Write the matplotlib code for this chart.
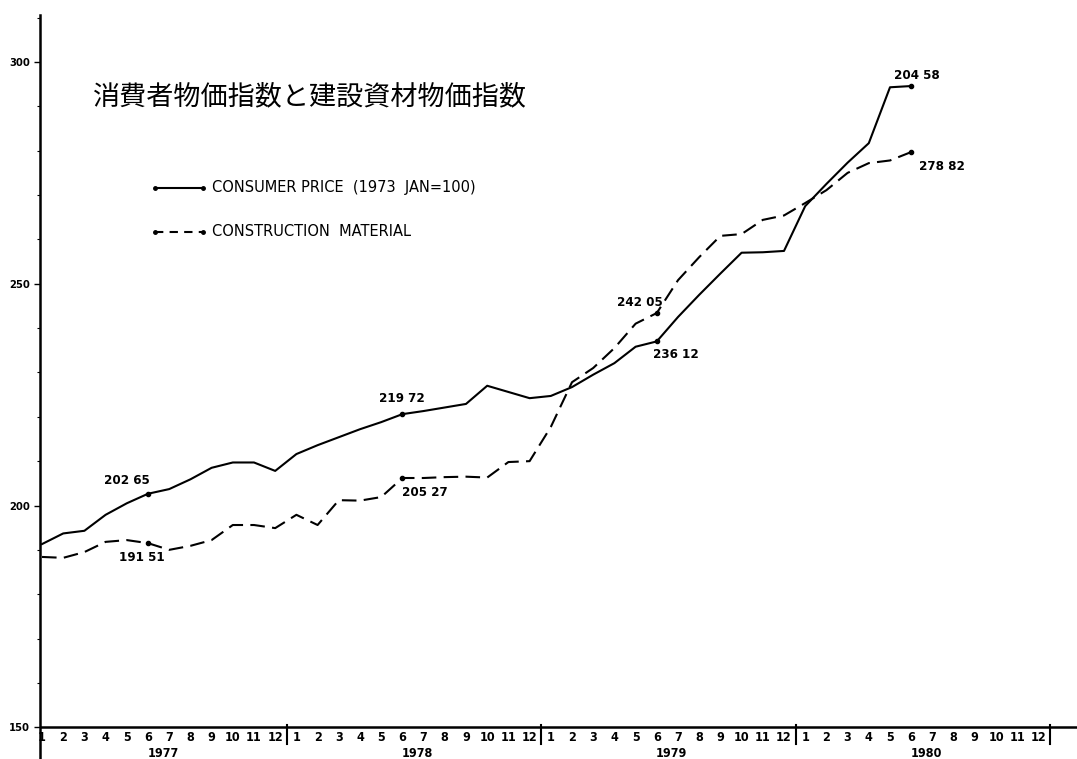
import matplotlib
matplotlib.use("Agg")
import matplotlib.pyplot as plt
from matplotlib.ticker import FixedLocator
from matplotlib import font_manager

# ---------------- data ----------------
years = ["1977", "1978", "1979", "1980"]
month_labels = [str(m) for m in range(1, 13)]

# monthly values Jan 1977 .. Jun 1980
consumer = [191.3, 193.7, 194.3, 197.9, 200.5, 202.65, 203.7, 205.9, 208.5, 209.7, 209.7, 207.8,
            211.6, 213.6, 215.4, 217.2, 218.8, 220.6, 221.3, 222.1, 222.9, 227.0, 225.6, 224.2,
            224.7, 226.7, 229.5, 232.1, 235.8, 237.0, 242.5, 247.5, 252.3, 257.0, 257.1, 257.4,
            267.5, 272.5, 277.3, 281.7, 294.3, 294.58]
construction = [188.4, 188.2, 189.5, 191.8, 192.2, 191.51, 190.0, 190.9, 192.2, 195.6, 195.6, 194.9,
                197.9, 195.6, 201.2, 201.1, 201.9, 206.2, 206.2, 206.4, 206.5, 206.3, 209.8, 210.0,
                217.7, 227.8, 231.0, 235.5, 241.0, 243.4, 250.8, 256.0, 260.8, 261.2, 264.4, 265.4,
                268.2, 271.1, 275.0, 277.2, 277.8, 279.7]

# annotated values (text as printed on the chart)
consumer_notes = ["202 65", "219 72", "236 12", "204 58"]
construction_notes = ["191 51", "205 27", "242 05", "278 82"]
note_months = [5, 17, 29, 41]   # June of each year

title = "消費者物価指数と建設資材物価指数"
legend_labels = ["CONSUMER PRICE  (1973  JAN=100)", "CONSTRUCTION  MATERIAL"]
yticks = [150, 200, 250, 300]

# ---------------- layout helpers ----------------
W, H = 1077, 759
X0, DX = 42.0, 21.2          # pixel of month 0 and pixels per month
Y200, DY = 505.5, 4.435      # pixel of value 200 and pixels per unit


def px2x(px):
    return (px - X0) / DX


def px2y(py):
    return 200 + (Y200 - py) / DY


names = {f.name for f in font_manager.fontManager.ttflist}
narrow = [n for n in ["Liberation Sans Narrow", "DejaVu Sans"] if n in names] or ["DejaVu Sans"]
narrow_stretch = "condensed"

fig = plt.figure(figsize=(W / 100, H / 100), dpi=100)
ax = fig.add_axes([40 / W, 0, 1 - 40 / W, (H - 15) / H])
ax.set_xlim(px2x(40), px2x(1077))
ax.set_ylim(px2y(759), px2y(15))

for s in ["top", "right", "bottom"]:
    ax.spines[s].set_visible(False)
ax.spines["left"].set_linewidth(1.8)
ax.set_xticks([])
ax.yaxis.set_major_locator(FixedLocator(yticks))
ax.yaxis.set_minor_locator(FixedLocator([v for v in range(150, 311, 10) if v not in yticks]))
ax.tick_params(axis="y", which="major", length=4, width=1.0, labelsize=8, pad=3)
ax.tick_params(axis="y", which="minor", length=2, width=0.8)
for lab in ax.get_yticklabels():
    lab.set_fontweight("bold")
    lab.set_family(narrow)
    lab.set_fontstretch(narrow_stretch)

# x axis line at 150
ax.axhline(150, color="black", lw=1.8, zorder=3)

months = list(range(len(consumer)))
ax.plot(months, consumer, color="black", lw=1.5, ls="-",
        marker="o", markevery=note_months, markersize=3, solid_joinstyle="round")
ax.plot(months, construction, color="black", lw=1.5, ls=(0, (7, 3.5)),
        marker="o", markevery=note_months, markersize=3)

# month labels, dividers, year labels
lab_font = dict(fontsize=9, fontweight="bold", family=narrow, fontstretch=narrow_stretch,
                ha="center", va="center")
for k, yr in enumerate(years):
    for j, ml in enumerate(month_labels):
        ax.text(12 * k + j, px2y(737), ml, **lab_font)
    ax.text(12 * k + 5.7, px2y(753), yr, **lab_font)
    ax.plot([12 * k + 11.55] * 2, [px2y(725), px2y(744)], color="black", lw=1.5, clip_on=False)

# annotations
note_font = dict(fontsize=9.5, fontweight="bold", family=narrow, fontstretch=narrow_stretch,
                 ha="center", va="center")
c_pos = [(127, 480), (402, 399), (676, 355), (917, 75)]
k_pos = [(142, 557), (425, 492), (640, 302), (942, 167)]
for txt, (px, py) in zip(consumer_notes, c_pos):
    ax.text(px2x(px), px2y(py), txt, **note_font)
for txt, (px, py) in zip(construction_notes, k_pos):
    ax.text(px2x(px), px2y(py), txt, **note_font)

# legend (drawn by hand)
ax.plot([px2x(155), px2x(203)], [px2y(188)] * 2, color="black", lw=1.5, ls="-",
        marker="o", markersize=2.5)
ax.plot([px2x(155), px2x(203)], [px2y(232)] * 2, color="black", lw=1.5, ls=(0, (4, 3)),
        marker="o", markersize=2.5)
leg_font = dict(fontsize=10.5, family=["DejaVu Sans"], ha="left", va="center")
ax.text(px2x(212), px2y(187), legend_labels[0], **leg_font)
ax.text(px2x(212), px2y(231), legend_labels[1], **leg_font)

# title
fig.text(93 / W, 1 - 97 / H, title, fontsize=19.5,
         family=["Noto Sans CJK JP", "DejaVu Sans"], ha="left", va="center")

fig.savefig("out.png", dpi=100)
